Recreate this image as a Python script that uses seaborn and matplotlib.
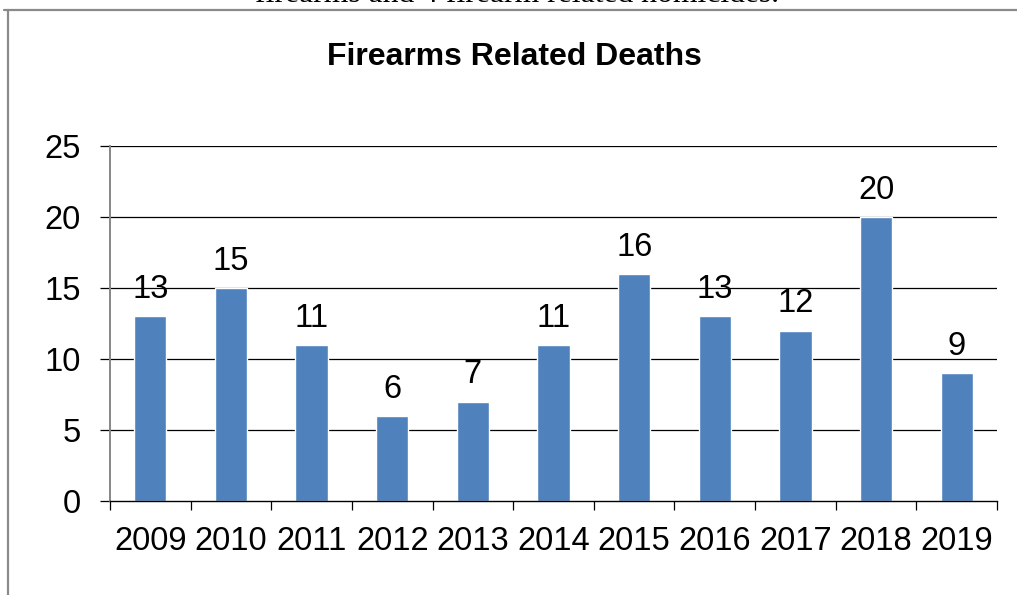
import matplotlib
matplotlib.use("Agg")
import matplotlib.pyplot as plt
import seaborn as sns
import pandas as pd
import numpy as np
from matplotlib.lines import Line2D

years = ["2009", "2010", "2011", "2012", "2013", "2014", "2015", "2016", "2017", "2018", "2019"]
deaths = [13, 15, 11, 6, 7, 11, 16, 13, 12, 20, 9]
y_ticks = [0, 5, 10, 15, 20, 25]

title = "Firearms Related Deaths"
caption_above = "firearms and 4 firearm related homicides."

sns.set_theme(style="white")
plt.rcParams["font.family"] = ["Liberation Sans", "DejaVu Sans"]

df = pd.DataFrame({"year": years, "deaths": deaths})

fig = plt.figure(figsize=(10.17, 5.95), dpi=100)
ax = fig.add_axes([0.1082, 0.158, 0.8721, 0.5966])

sns.barplot(data=df, x="year", y="deaths", color="#4F81BD", saturation=1,
            width=0.4, ax=ax, zorder=3)

ax.set_xlim(-0.5, len(years) - 0.5)
ax.set_ylim(0, 25)
ax.set_yticks(y_ticks)
ax.set_xlabel("")
ax.set_ylabel("")

# horizontal gridlines
for v in y_ticks[1:]:
    ax.axhline(v, color="black", lw=0.9, zorder=1)

# spines
for s in ["top", "right"]:
    ax.spines[s].set_visible(False)
ax.spines["left"].set_color("#868686")
ax.spines["left"].set_linewidth(1.4)
ax.spines["bottom"].set_color("black")
ax.spines["bottom"].set_linewidth(1.0)
ax.spines["bottom"].set_zorder(4)

# ticks
ax.tick_params(axis="y", which="major", length=7.2, width=0.9, color="black",
               labelsize=23.5, pad=14, left=True)
ax.tick_params(axis="x", which="major", length=0, labelsize=23.5, pad=18)
ax.set_xticks(np.arange(-0.5, len(years)), minor=True)
ax.tick_params(axis="x", which="minor", length=6.5, width=0.9, color="black",
               bottom=True, direction="out")

for lab in ax.get_xticklabels() + ax.get_yticklabels():
    lab.set_color("black")

# value labels on the bars
for cont in ax.containers:
    ax.bar_label(cont, labels=[str(v) for v in deaths], padding=8,
                 fontsize=23.5, color="black")

# title
fig.text(0.5055, 1 - 57 / 595, title, ha="center", va="center",
         fontsize=23, fontweight="bold", color="black")

# clipped text line from the page above
fig.text(0.508, 1 - 1.5 / 595, caption_above, ha="center", va="baseline",
         fontsize=22.8, family=["Liberation Serif", "DejaVu Serif"], color="black")

# outer frame of the chart
fig.add_artist(Line2D([4 / 1017, 1.0], [1 - 9.5 / 595, 1 - 9.5 / 595],
                      transform=fig.transFigure, color="#8a8a8a", lw=1.6))
fig.add_artist(Line2D([8 / 1017, 8 / 1017], [1 - 9.5 / 595, 0.0],
                      transform=fig.transFigure, color="#8a8a8a", lw=1.6))

fig.savefig("out.png", dpi=100)
